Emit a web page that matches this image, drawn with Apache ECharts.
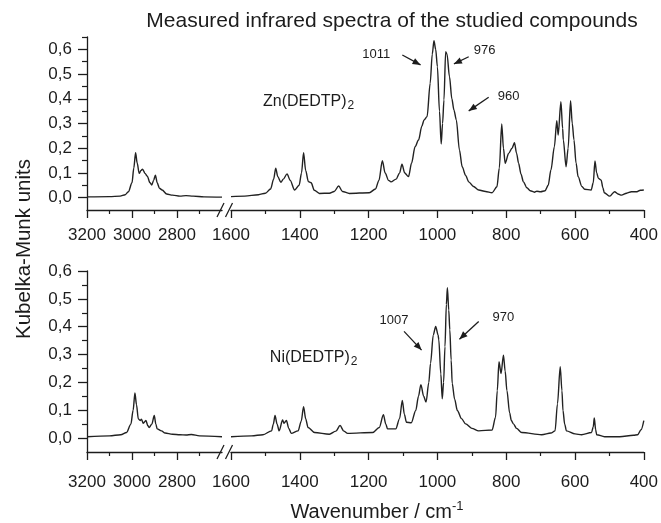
<!DOCTYPE html>
<html>
<head>
<meta charset="utf-8">
<script src="https://cdn.jsdelivr.net/npm/echarts@6.0.0/dist/echarts.min.js"></script>
<style>html,body{margin:0;padding:0;background:#fff}#c{width:661px;height:523px}</style>
</head>
<body>
<div id="c"></div>
<script>
// ---- Data (wavenumber cm-1, Kubelka-Munk units) ----
const znHigh = [[3200,0.003],[3100,0.004],[3053,0.006],[3030,0.012],[3016,0.024],[3000,0.06],[2992,0.12],[2984,0.182],[2977,0.14],[2968,0.098],[2960,0.11],[2953,0.115],[2942,0.098],[2932,0.087],[2920,0.06],[2912,0.051],[2904,0.07],[2896,0.091],[2888,0.06],[2878,0.038],[2866,0.031],[2846,0.015],[2820,0.01],[2787,0.006],[2760,0.008],[2728,0.006],[2680,0.003],[2600,0.002]];
const znLow = [[1600,0.004],[1560,0.006],[1520,0.012],[1500,0.018],[1485,0.035],[1476,0.075],[1470,0.119],[1464,0.085],[1455,0.062],[1448,0.075],[1437,0.096],[1428,0.07],[1415,0.031],[1402,0.05],[1395,0.1],[1389,0.182],[1383,0.11],[1375,0.065],[1367,0.06],[1358,0.03],[1343,0.017],[1314,0.018],[1300,0.025],[1287,0.047],[1276,0.025],[1256,0.017],[1198,0.02],[1180,0.035],[1170,0.07],[1160,0.149],[1152,0.1],[1142,0.07],[1135,0.064],[1120,0.075],[1110,0.1],[1103,0.135],[1095,0.1],[1084,0.085],[1075,0.14],[1065,0.206],[1055,0.233],[1045,0.29],[1039,0.314],[1030,0.328],[1021,0.463],[1015,0.58],[1010,0.635],[1005,0.6],[1000,0.53],[994,0.35],[989,0.217],[985,0.3],[981,0.395],[976,0.591],[972,0.58],[965,0.49],[958,0.4],[952,0.355],[945,0.314],[936,0.193],[928,0.125],[918,0.09],[909,0.064],[895,0.045],[880,0.031],[860,0.025],[841,0.02],[827,0.044],[820,0.12],[813,0.298],[808,0.2],[803,0.139],[793,0.179],[783,0.2],[776,0.222],[770,0.18],[764,0.139],[757,0.095],[750,0.064],[740,0.04],[730,0.028],[718,0.022],[711,0.026],[700,0.024],[687,0.028],[678,0.05],[670,0.112],[660,0.206],[653,0.311],[649,0.253],[641,0.388],[636,0.28],[634,0.233],[626,0.125],[620,0.2],[613,0.392],[608,0.3],[603,0.233],[597,0.14],[591,0.085],[580,0.045],[572,0.034],[553,0.031],[547,0.06],[542,0.148],[537,0.1],[532,0.078],[524,0.071],[519,0.04],[515,0.02],[499,0.006],[485,0.024],[475,0.015],[465,0.01],[450,0.018],[436,0.024],[420,0.024],[410,0.03],[400,0.031]];
const niHigh = [[3200,0.005],[3100,0.008],[3050,0.012],[3024,0.02],[3005,0.05],[2995,0.1],[2987,0.162],[2980,0.12],[2972,0.069],[2964,0.063],[2958,0.068],[2950,0.053],[2938,0.063],[2930,0.045],[2924,0.038],[2912,0.05],[2901,0.081],[2894,0.05],[2888,0.033],[2869,0.026],[2853,0.018],[2820,0.014],[2787,0.012],[2760,0.011],[2736,0.013],[2700,0.008],[2600,0.005]];
const niLow = [[1600,0.005],[1540,0.008],[1507,0.012],[1482,0.026],[1477,0.05],[1472,0.081],[1466,0.05],[1460,0.026],[1450,0.065],[1446,0.053],[1439,0.063],[1432,0.035],[1425,0.017],[1405,0.026],[1396,0.06],[1389,0.113],[1383,0.07],[1376,0.038],[1357,0.02],[1314,0.014],[1295,0.025],[1283,0.045],[1272,0.025],[1261,0.017],[1188,0.02],[1169,0.038],[1157,0.084],[1150,0.05],[1145,0.033],[1121,0.033],[1110,0.07],[1102,0.135],[1096,0.085],[1090,0.057],[1076,0.055],[1063,0.099],[1055,0.15],[1048,0.192],[1040,0.15],[1033,0.129],[1025,0.2],[1020,0.268],[1012,0.37],[1005,0.401],[998,0.37],[996,0.353],[990,0.23],[986,0.141],[982,0.2],[978,0.328],[974,0.48],[971,0.54],[967,0.46],[964,0.389],[960,0.28],[957,0.196],[950,0.14],[942,0.099],[930,0.07],[918,0.051],[900,0.035],[880,0.026],[841,0.029],[831,0.075],[826,0.17],[821,0.274],[815,0.232],[808,0.298],[803,0.24],[798,0.171],[790,0.09],[785,0.063],[779,0.051],[770,0.035],[755,0.02],[697,0.012],[670,0.018],[658,0.026],[651,0.123],[643,0.256],[638,0.17],[635,0.099],[630,0.05],[625,0.026],[600,0.015],[581,0.012],[552,0.02],[547,0.04],[544,0.072],[540,0.03],[537,0.012],[514,0.005],[470,0.005],[430,0.01],[418,0.012],[408,0.03],[400,0.063]];

// ticks
const yMajor = [0, 0.1, 0.2, 0.3, 0.4, 0.5, 0.6];
const yMinorTop = [0.05, 0.15, 0.25, 0.35, 0.45, 0.55, 0.65];
const yMinorBottom = [0.05, 0.15, 0.25, 0.35, 0.45, 0.55];
const xHighMajor = [3200, 3000, 2800];
const xHighMinor = [3100, 2900, 2700];
const xLowMajor = [1600, 1400, 1200, 1000, 800, 600, 400];
const xLowMinor = [1500, 1300, 1100, 900, 700, 500];

// annotations: [label, textW, textV, arrowFromW, arrowFromV, arrowToW, arrowToV]
const topNotes = [['1011',1178,0.581,1102,0.577,1049,0.537],['976',863,0.594,909,0.570,952,0.541],['960',793,0.411,851,0.406,909,0.351]];
const botNotes = [['1007',1126,0.421,1097,0.383,1046,0.316],['970',808,0.432,880,0.419,936,0.355]];

const FONT = '"Liberation Sans", Arial, sans-serif';
const INK = '#1c1c1c';

const grids = [
  {left:87, top:37, width:135, height:173},
  {left:231, top:37, width:415, height:173},
  {left:87, top:271, width:135, height:181},
  {left:231, top:271, width:415, height:181}
];

function xMain(gi, min, max, major, margin){
  return {type:'value', gridIndex:gi, min:min, max:max, inverse:true, position:'bottom',
    axisLine:{show:true, onZero:false, lineStyle:{color:INK, width:1.3}},
    axisTick:{show:true, inside:false, length:8, customValues:major, lineStyle:{color:INK, width:1.3}},
    axisLabel:{show:true, customValues:major, margin:margin, color:INK, fontSize:17, fontFamily:FONT,
      formatter:v=>String(Math.round(v))},
    splitLine:{show:false}};
}
function xMinor(gi, min, max, minor){
  return {type:'value', gridIndex:gi, min:min, max:max, inverse:true, position:'bottom',
    axisLine:{show:false, onZero:false},
    axisTick:{show:true, length:4, customValues:minor, lineStyle:{color:INK, width:1.2}},
    axisLabel:{show:false}, splitLine:{show:false}};
}
function yMain(gi, max, show){
  return {type:'value', gridIndex:gi, min:-0.05, max:max, show:show, position:'left',
    axisLine:{show:true, onZero:false, lineStyle:{color:INK, width:1.3}},
    axisTick:{show:true, length:9, customValues:yMajor, lineStyle:{color:INK, width:1.3}},
    axisLabel:{show:true, customValues:yMajor, margin:15, color:INK, fontSize:17, fontFamily:FONT,
      formatter:v=>v.toFixed(1).replace('.', ',')},
    splitLine:{show:false}};
}
function yMinorAx(gi, max, minor){
  return {type:'value', gridIndex:gi, min:-0.05, max:max, position:'left',
    axisLine:{show:false, onZero:false},
    axisTick:{show:true, length:5, customValues:minor, lineStyle:{color:INK, width:1.2}},
    axisLabel:{show:false}, splitLine:{show:false}};
}

function lineSeries(xi, yi, data){
  return {type:'line', xAxisIndex:xi, yAxisIndex:yi, data:data, showSymbol:false, symbol:'none',
    smooth:0.3, smoothMonotone:'x', lineStyle:{color:'#222', width:1.4}, silent:true, animation:false};
}

const option = {
  animation:false,
  grid: grids,
  xAxis: [
    xMain(0, 2600, 3200, xHighMajor, 17), xMain(1, 400, 1600, xLowMajor, 17),
    xMain(2, 2600, 3200, xHighMajor, 22), xMain(3, 400, 1600, xLowMajor, 22),
    xMinor(0, 2600, 3200, xHighMinor), xMinor(1, 400, 1600, xLowMinor),
    xMinor(2, 2600, 3200, xHighMinor), xMinor(3, 400, 1600, xLowMinor)
  ],
  yAxis: [
    yMain(0, 0.65, true), yMain(1, 0.65, false), yMain(2, 0.6, true), yMain(3, 0.6, false),
    yMinorAx(0, 0.65, yMinorTop), yMinorAx(2, 0.6, yMinorBottom)
  ],
  series: [
    lineSeries(0, 0, znHigh), lineSeries(1, 1, znLow),
    lineSeries(2, 2, niHigh), lineSeries(3, 3, niLow)
  ]
};

const chart = echarts.init(document.getElementById('c'), null, {renderer:'canvas'});
chart.setOption(option);

// ---- decorations computed through the axes ----
const g = [];
function px(si, w, v){ return chart.convertToPixel({seriesIndex:si}, [w, v]); }

function arrow(si, n){
  const a = px(si, n[3], n[4]), b = px(si, n[5], n[6]);
  g.push({type:'line', shape:{x1:a[0], y1:a[1], x2:b[0], y2:b[1]}, style:{stroke:INK, lineWidth:1.3}});
  const ang = Math.atan2(b[1]-a[1], b[0]-a[0]);
  const L = 8, W = 3.3;
  const bx = b[0]-L*Math.cos(ang), by = b[1]-L*Math.sin(ang);
  g.push({type:'polygon', shape:{points:[[b[0],b[1]],[bx+W*Math.sin(ang), by-W*Math.cos(ang)],[bx-W*Math.sin(ang), by+W*Math.cos(ang)]]}, style:{fill:INK}});
  const t = px(si, n[1], n[2]);
  g.push({type:'text', x:t[0], y:t[1], style:{text:n[0], fill:INK, fontSize:13, fontFamily:FONT, align:'center', verticalAlign:'middle'}});
}
topNotes.forEach(n=>arrow(1, n));
botNotes.forEach(n=>arrow(3, n));

function compound(si, name, w, v){
  const p = px(si, w, v);
  g.push({type:'text', x:p[0], y:p[1], style:{text:name+'{s|2}', fill:INK, fontSize:16, fontFamily:FONT, align:'left', verticalAlign:'middle', lineHeight:20,
    rich:{s:{fontSize:12, fontFamily:FONT, fill:INK, lineHeight:20, verticalAlign:'bottom', padding:[9,0,0,1]}}}});
}
compound(1, 'Zn(DEDTP)', 1507, 0.39);
compound(3, 'Ni(DEDTP)', 1487, 0.29);

// axis breaks
function breakMarks(giL, giR, yAxisIdx){
  const l = chart.convertToPixel({xAxisIndex:giL, yAxisIndex:yAxisIdx}, [2600, -0.05]);
  const r = chart.convertToPixel({xAxisIndex:giR, yAxisIndex:yAxisIdx+1}, [1600, -0.05]);
  const y = l[1];
  [l[0]-1.5, r[0]-2].forEach(cx=>{
    g.push({type:'line', shape:{x1:cx-3.5, y1:y+7, x2:cx+3.5, y2:y-7}, style:{stroke:INK, lineWidth:1.3}});
  });
}
breakMarks(0, 1, 0);
breakMarks(2, 3, 2);

// titles
g.push({type:'text', x:392, y:21, style:{text:'Measured infrared spectra of the studied compounds', fill:INK, fontSize:21, fontFamily:FONT, align:'center', verticalAlign:'middle'}});
g.push({type:'text', x:377, y:512, style:{text:'Wavenumber / cm{sup|-1}', fill:INK, fontSize:20, fontFamily:FONT, align:'center', verticalAlign:'middle', lineHeight:24,
  rich:{sup:{fontSize:13, fontFamily:FONT, fill:INK, lineHeight:24, verticalAlign:'top', padding:[0,0,8,0]}}}});
g.push({type:'text', x:24, y:249, rotation:Math.PI/2, style:{text:'Kubelka-Munk units', fill:INK, fontSize:20.5, fontFamily:FONT, align:'center', verticalAlign:'middle'}});

chart.setOption({graphic:{elements:g}});
</script>
</body>
</html>
